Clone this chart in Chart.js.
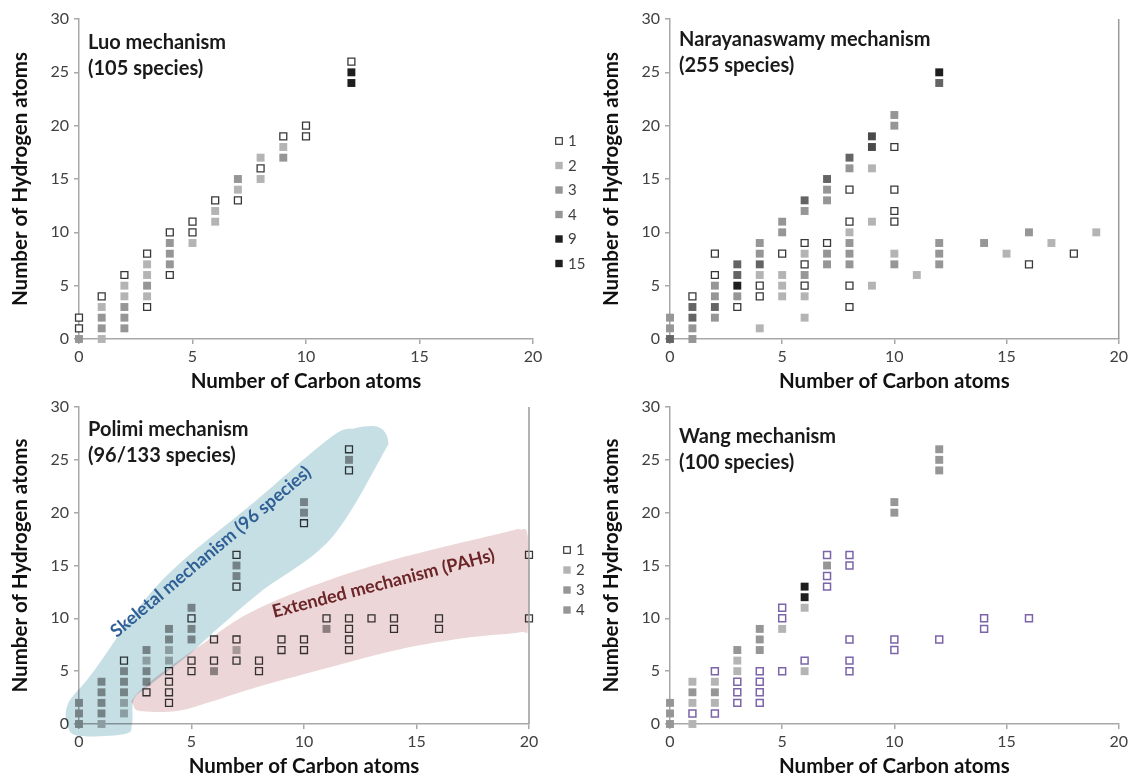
<!DOCTYPE html>
<html>
<head>
<meta charset="utf-8">
<script src="https://cdn.jsdelivr.net/npm/chart.js@4.4.1/dist/chart.umd.min.js"></script>
<style>
  html, body { margin: 0; padding: 0; background: #ffffff; }
  body { width: 1131px; height: 777px; position: relative; overflow: hidden; }
  canvas { position: absolute; }
</style>
</head>
<body>
<canvas id="luo" width="591" height="392" style="left:0;top:0;width:591px;height:392px"></canvas>
<canvas id="nara" width="540" height="392" style="left:591px;top:0;width:540px;height:392px"></canvas>
<canvas id="polimi" width="591" height="389" style="left:0;top:388px;width:591px;height:389px"></canvas>
<canvas id="wang" width="540" height="389" style="left:591px;top:388px;width:540px;height:389px"></canvas>
<script>
// ---------- species: [number of C atoms, number of H atoms] ----------
const carbonRange = [0, 20];
const hydrogenRange = [0, 30];

// Luo mechanism (105 species)
const luo1 = [[0,2],[0,1],[1,4],[2,6],[3,8],[3,3],[4,10],[4,6],[5,11],[5,10],[6,13],[7,13],[8,16],[9,19],[10,20],[10,19],[12,26]];
const luo2 = [[1,3],[1,0],[2,5],[2,4],[3,7],[3,6],[3,4],[5,9],[6,12],[6,11],[7,14],[8,17],[8,15],[9,18]];
const luo3 = [[0,0],[1,2],[1,1],[2,3],[2,2],[2,1],[3,5],[4,9],[4,8],[4,7],[7,15],[9,17]];
const luo4 = [];
const luo9 = [[12,25]];
const luo15 = [[12,24]];

// Narayanaswamy mechanism (255 species)
const nara1 = [[1,4],[2,8],[2,6],[3,3],[4,5],[4,4],[5,8],[6,9],[6,7],[6,5],[7,9],[8,14],[8,11],[8,5],[8,3],[10,18],[10,14],[10,12],[10,11],[16,7],[18,8]];
const nara2 = [[4,6],[4,1],[5,6],[5,5],[5,4],[6,8],[6,4],[6,2],[8,10],[9,16],[9,11],[9,5],[10,8],[11,6],[15,8],[17,9],[19,10]];
const nara3 = [[0,2],[0,1],[1,1],[1,0],[2,5],[2,4],[2,2],[3,4],[4,9],[4,8],[5,11],[5,10],[6,12],[6,6],[7,14],[7,13],[7,8],[7,7],[8,16],[8,9],[8,8],[8,7],[10,21],[10,20],[10,7],[12,9],[12,8],[12,7],[14,9],[16,10]];
const nara4 = [[0,0],[1,3],[1,2],[2,3],[3,7],[3,6],[4,7],[6,13],[7,15],[8,17],[12,24]];
const nara5 = [[9,19],[9,18]];
const nara6 = [[3,5],[12,25]];

// Polimi mechanism (96/133 species)
const polimi1 = [[2,6],[3,3],[4,5],[4,4],[4,3],[4,2],[5,10],[5,6],[5,5],[6,8],[6,6],[7,16],[7,13],[7,8],[7,6],[8,6],[8,5],[9,8],[9,7],[10,19],[10,8],[10,7],[11,10],[12,26],[12,24],[12,10],[12,9],[12,8],[12,7],[13,10],[14,10],[14,9],[16,10],[16,9],[20,16],[20,10]];
const polimi2 = [[1,0],[2,2],[2,1],[3,6],[4,7],[4,6],[7,7]];
const polimi3 = [[0,2],[0,1],[0,0],[1,4],[1,3],[1,2],[1,1],[2,5],[2,4],[2,3],[3,7],[3,5],[3,4],[4,9],[4,8],[5,11],[5,9],[5,8],[6,5],[7,15],[7,14],[10,21],[10,20],[11,9],[12,25]];
const polimi4 = [];

// Wang mechanism (100 species)
const wang1 = [[1,1],[2,5],[2,1],[3,4],[3,3],[3,2],[4,5],[4,4],[4,3],[4,2],[5,11],[5,10],[5,5],[6,6],[7,16],[7,14],[7,13],[8,16],[8,15],[8,8],[8,6],[8,5],[10,8],[10,7],[12,8],[14,10],[14,9],[16,10]];
const wang2 = [[1,4],[1,2],[1,0],[2,4],[2,2],[3,6],[3,5],[5,9],[6,11],[6,5]];
const wang3 = [[0,2],[0,1],[0,0],[1,3],[2,3],[3,7],[4,9],[4,8],[4,7],[7,15],[10,21],[10,20],[12,26],[12,25],[12,24]];
const wang4 = [[6,13],[6,12]];

// ---------- styling ----------
const FONT = "Lato, 'Open Sans', 'DejaVu Sans', sans-serif";
const MARK = {
  hollow:  { bg: '#ffffff', border: '#383838', bw: 1.3, r: 4.9 },
  purple:  { bg: '#ffffff', border: '#7b64a8', bw: 1.5, r: 4.9 },
  light:   { bg: '#b4b4b4', border: '#b4b4b4', bw: 0, r: 5.6 },
  medium:  { bg: '#969696', border: '#969696', bw: 0, r: 5.6 },
  dark:    { bg: '#646464', border: '#646464', bw: 0, r: 5.6 },
  darker:  { bg: '#4a4a4a', border: '#4a4a4a', bw: 0, r: 5.6 },
  black:   { bg: '#1e1e1e', border: '#1e1e1e', bw: 0, r: 5.6 }
};

function series(label, pairs, kind) {
  const st = MARK[kind];
  return {
    label,
    data: pairs.map(([c, h]) => ({ x: c, y: h })),
    pointStyle: 'rect',
    pointRadius: st.r,
    pointBackgroundColor: st.bg,
    pointBorderColor: st.border,
    pointBorderWidth: st.bw,
    clip: false
  };
}

function axes() {
  const axisGrey = '#a8a8a8';
  return {
    x: {
      type: 'linear', min: carbonRange[0], max: carbonRange[1],
      ticks: { stepSize: 5, color: '#404040', font: { family: FONT, size: 16 }, padding: 3 },
      grid: { drawOnChartArea: false, drawTicks: true, tickLength: 5, color: axisGrey, lineWidth: 1.5 },
      border: { display: true, color: axisGrey, width: 1.5 },
      title: { display: true, text: 'Number of Carbon atoms', color: '#111111',
               font: { family: FONT, size: 20.5, weight: 'bold', lineHeight: 1 }, padding: 0 },
      afterFit(scale) { scale.height = 53; }
    },
    y: {
      type: 'linear', min: hydrogenRange[0], max: hydrogenRange[1],
      ticks: { stepSize: 5, color: '#404040', font: { family: FONT, size: 16 }, padding: 5 },
      grid: { drawOnChartArea: false, drawTicks: true, tickLength: 5, color: axisGrey, lineWidth: 1.5 },
      border: { display: true, color: axisGrey, width: 1.5 },
      title: { display: true, text: 'Number of Hydrogen atoms', color: '#111111',
               font: { family: FONT, size: 20.5, weight: 'bold', lineHeight: 1 }, padding: { top: 10, bottom: 0 } },
      afterFit(scale) { scale.width = 79; }
    }
  };
}

// Two-line mechanism name in the upper-left corner of the plot area
function nameTag(lines, dy) {
  return {
    id: 'nameTag',
    afterDraw(chart) {
      const { ctx, chartArea } = chart;
      ctx.save();
      ctx.font = `bold 20px ${FONT}`;
      ctx.fillStyle = '#1a1a1a';
      ctx.textAlign = 'left';
      ctx.textBaseline = 'middle';
      lines.forEach((t, i) => ctx.fillText(t, chartArea.left + 9, chartArea.top + dy + i * 26));
      ctx.restore();
    }
  };
}

// Vertical key listing each dataset's marker and label
function sideKey(x, y, gap) {
  return {
    id: 'sideKey',
    afterDraw(chart) {
      const { ctx } = chart;
      ctx.save();
      ctx.font = `15px ${FONT}`;
      ctx.fillStyle = '#404040';
      ctx.textBaseline = 'middle';
      chart.data.datasets.forEach((d, i) => {
        const cy = y + i * gap;
        if (d.pointBorderWidth > 0) {
          ctx.fillStyle = d.pointBackgroundColor;
          ctx.fillRect(x - 3.3, cy - 3.3, 6.6, 6.6);
          ctx.strokeStyle = d.pointBorderColor;
          ctx.lineWidth = 1.2;
          ctx.strokeRect(x - 3.3, cy - 3.3, 6.6, 6.6);
        } else {
          ctx.fillStyle = d.pointBackgroundColor;
          ctx.fillRect(x - 3.7, cy - 3.7, 7.4, 7.4);
        }
        ctx.fillStyle = '#404040';
        ctx.fillText(d.label, x + 9, cy + 0.5);
      });
      ctx.restore();
    }
  };
}

// Frame line along the right edge of the plot area
const rightEdge = {
  id: 'rightEdge',
  afterDraw(chart) {
    const { ctx, chartArea } = chart;
    ctx.save();
    ctx.strokeStyle = '#9a9a9a';
    ctx.lineWidth = 1.5;
    ctx.beginPath();
    ctx.moveTo(chartArea.right, chartArea.top);
    ctx.lineTo(chartArea.right, chartArea.bottom);
    ctx.stroke();
    ctx.restore();
  }
};

// Shaded groupings (outline given in carbon/hydrogen units) with rotated captions
const skeletalOutline = [[-0.49,1.9],[0.62,4.9],[3.6,13.4],[7.9,21.2],[11.16,27.1],[12.27,28.0],[13.3,28.1],[13.73,26.9],[13.42,25.2],[11.16,17.45],[8.04,12.45],[6.13,8.96],[4.8,6.4],[3.16,3.7],[2.44,2.36],[2.36,0],[2.04,-0.94],[0.04,-1.13],[-0.49,-0.28]];
const extendedOutline = [[2.4,2.4],[3.16,4.0],[5.38,7.4],[8.04,11.0],[12.93,14.9],[18.84,18.1],[19.6,18.4],[19.96,17.45],[19.96,9.43],[19.6,8.68],[17.38,8.2],[14.27,7.08],[11.16,5.38],[8.04,3.58],[5.82,2.08],[4.36,1.23],[2.71,1.23],[2.4,1.9]];

function closedCurve(ctx, p) {
  const n = p.length;
  ctx.moveTo(p[0][0], p[0][1]);
  for (let i = 0; i < n; i++) {
    const p0 = p[(i - 1 + n) % n], p1 = p[i], p2 = p[(i + 1) % n], p3 = p[(i + 2) % n];
    const t = 1 / 6;
    ctx.bezierCurveTo(
      p1[0] + (p2[0] - p0[0]) * t, p1[1] + (p2[1] - p0[1]) * t,
      p2[0] - (p3[0] - p1[0]) * t, p2[1] - (p3[1] - p1[1]) * t,
      p2[0], p2[1]);
  }
  ctx.closePath();
}

const groupShading = {
  id: 'groupShading',
  afterDatasetsDraw(chart) {
    const { ctx, scales: { x, y } } = chart;
    const toPx = pts => pts.map(([c, h]) => [x.getPixelForValue(c), y.getPixelForValue(h)]);
    ctx.save();
    ctx.globalCompositeOperation = 'multiply';
    [[skeletalOutline, '#c6dfe5'], [extendedOutline, '#ecd6d7']].forEach(([outline, fill]) => {
      ctx.beginPath();
      closedCurve(ctx, toPx(outline));
      ctx.fillStyle = fill;
      ctx.fill();
    });
    ctx.restore();

    const captions = [
      { text: 'Skeletal mechanism (96 species)', at: [5.86, 16.3], angle: -40, color: '#2f5f95' },
      { text: 'Extended mechanism (PAHs)', at: [13.53, 13.3], angle: -14.5, color: '#6b2427' }
    ];
    captions.forEach(c => {
      ctx.save();
      ctx.translate(x.getPixelForValue(c.at[0]), y.getPixelForValue(c.at[1]));
      ctx.rotate(c.angle * Math.PI / 180);
      ctx.font = `bold 18px ${FONT}`;
      ctx.fillStyle = c.color;
      ctx.textAlign = 'center';
      ctx.textBaseline = 'middle';
      ctx.fillText(c.text, 0, 0);
      ctx.restore();
    });
  }
};

function panel(id, datasets, padRight, extraPlugins) {
  return new Chart(document.getElementById(id), {
    type: 'scatter',
    data: { datasets },
    options: {
      responsive: false,
      animation: false,
      events: [],
      layout: { padding: { top: 19, right: padRight, bottom: 0, left: 0 } },
      scales: axes(),
      plugins: { legend: { display: false }, tooltip: { enabled: false } }
    },
    plugins: extraPlugins
  });
}

panel('luo', [
  series('1', luo1, 'hollow'),
  series('2', luo2, 'light'),
  series('3', luo3, 'medium'),
  series('4', luo4, 'medium'),
  series('9', luo9, 'black'),
  series('15', luo15, 'black')
], 58, [nameTag(['Luo mechanism', '(105 species)'], 24), sideKey(559, 141, 24.5)]);

panel('nara', [
  series('1', nara1, 'hollow'),
  series('2', nara2, 'light'),
  series('3', nara3, 'medium'),
  series('4', nara4, 'dark'),
  series('5', nara5, 'darker'),
  series('6', nara6, 'black')
], 10, [nameTag(['Narayanaswamy mechanism', '(255 species)'], 21), rightEdge]);

panel('polimi', [
  series('1', polimi1, 'hollow'),
  series('2', polimi2, 'light'),
  series('3', polimi3, 'medium'),
  series('4', polimi4, 'medium')
], 62, [groupShading, nameTag(['Polimi mechanism', '(96/133 species)'], 23), sideKey(567, 162, 20), rightEdge]);

panel('wang', [
  series('1', wang1, 'purple'),
  series('2', wang2, 'light'),
  series('3', wang3, 'medium'),
  series('4', wang4, 'black')
], 10, [nameTag(['Wang mechanism', '(100 species)'], 30)]);
</script>
</body>
</html>
